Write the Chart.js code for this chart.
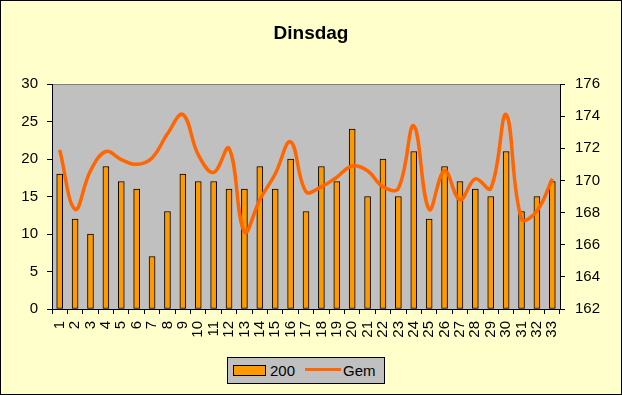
<!DOCTYPE html>
<html>
<head>
<meta charset="utf-8">
<script src="https://cdn.jsdelivr.net/npm/chart.js@4"></script>
<style>
  body { margin: 0; background: #ffffcc; }
  #wrap { position: relative; width: 622px; height: 395px; }
  #legend {
    position: absolute; left: 227px; top: 357px; width: 158px; height: 27px;
    box-sizing: border-box; border: 1px solid #000; background: #c0c0c0;
    font-family: "Liberation Sans", Arial, sans-serif; font-size: 15px; line-height: 15px;
  }
  #legend .sw { position: absolute; left: 5px; top: 7px; width: 33px; height: 11px; box-sizing: border-box; border: 1px solid #000; background: #ff9900; }
  #legend .ln { position: absolute; left: 77px; top: 10px; width: 36px; height: 3px; background: #ff6600; }
  #legend .t1 { position: absolute; left: 42px; top: 5px; }
  #legend .t2 { position: absolute; left: 115px; top: 5px; }
</style>
</head>
<body>
<div id="wrap">
  <canvas id="grafico" width="622" height="395"></canvas>
  <div id="legend">
    <span class="sw"></span><span class="t1">200</span>
    <span class="ln"></span><span class="t2">Gem</span>
  </div>
</div>
<script>
const dagen = ['1','2','3','4','5','6','7','8','9','10','11','12','13','14','15','16','17','18','19','20','21','22','23','24','25','26','27','28','29','30','31','32','33'];
const waarden200 = [18, 12, 10, 19, 17, 16, 7, 13, 18, 17, 17, 16, 16, 19, 16, 20, 13, 19, 17, 24, 15, 20, 15, 21, 12, 19, 17, 16, 15, 21, 13, 15, 17];
const gemiddelde = [171.9, 168.2, 170.6, 171.8, 171.3, 171.0, 171.4, 172.9, 174.1, 171.6, 170.5, 172.0, 166.8, 168.8, 170.4, 172.4, 169.3, 169.6, 170.2, 170.9, 170.6, 169.6, 169.5, 173.4, 168.2, 170.6, 168.8, 170.1, 169.5, 174.1, 167.6, 168.1, 170.1];

Chart.defaults.font.family = '"Liberation Sans", Arial, sans-serif';
Chart.defaults.font.size = 15;
Chart.defaults.color = '#000';

// achtergrond, grijs plotvlak en rand
const achtergrond = {
  id: 'achtergrond',
  beforeDraw(chart) {
    const ctx = chart.ctx;
    const a = chart.chartArea;
    ctx.save();
    ctx.fillStyle = '#ffffcc';
    ctx.fillRect(0, 0, chart.width, chart.height);
    ctx.fillStyle = '#c0c0c0';
    ctx.fillRect(a.left, a.top, a.right - a.left, a.bottom - a.top);
    ctx.strokeStyle = '#808080';
    ctx.lineWidth = 1;
    ctx.beginPath();
    ctx.moveTo(a.left, a.top + 0.5);
    ctx.lineTo(a.right, a.top + 0.5);
    ctx.stroke();
    ctx.strokeStyle = '#000';
    ctx.strokeRect(0.5, 0.5, chart.width - 1, chart.height - 1);
    ctx.restore();
  }
};

new Chart(document.getElementById('grafico').getContext('2d'), {
  type: 'bar',
  data: {
    labels: dagen,
    datasets: [{
      label: '200',
      data: waarden200,
      backgroundColor: '#ff9900',
      borderColor: '#000',
      borderWidth: 1,
      borderSkipped: false,
      barThickness: 6,
      yAxisID: 'y',
      order: 2
    }, {
      type: 'line',
      label: 'Gem',
      data: gemiddelde,
      borderColor: '#ff6600',
      borderWidth: 3.5,
      tension: 0.4,
      pointRadius: 0,
      fill: false,
      yAxisID: 'y1',
      order: 1
    }]
  },
  options: {
    responsive: false,
    animation: false,
    devicePixelRatio: 1,
    layout: { padding: 0 },
    plugins: {
      legend: { display: false },
      tooltip: { enabled: false },
      title: {
        display: true,
        text: 'Dinsdag',
        font: { size: 19, weight: 'bold' },
        padding: { top: 22, bottom: 39.2 }
      }
    },
    scales: {
      x: {
        offset: true,
        grid: { offset: true, drawOnChartArea: false, tickLength: 5, color: '#000' },
        border: { color: '#000' },
        ticks: { minRotation: 90, maxRotation: 90, padding: 7, autoSkip: false },
        afterFit(scale) { scale.height = 86; }
      },
      y: {
        position: 'left',
        min: 0,
        max: 30,
        grid: { drawOnChartArea: false, tickLength: 5, color: '#000' },
        border: { color: '#000' },
        ticks: { stepSize: 5, padding: 9 },
        afterFit(scale) { scale.width = 52; }
      },
      y1: {
        position: 'right',
        min: 162,
        max: 176,
        grid: { drawOnChartArea: false, tickLength: 5, color: '#000' },
        border: { color: '#000' },
        ticks: { stepSize: 2, padding: 10 },
        afterFit(scale) { scale.width = 62; }
      }
    }
  },
  plugins: [achtergrond]
});
</script>
</body>
</html>
